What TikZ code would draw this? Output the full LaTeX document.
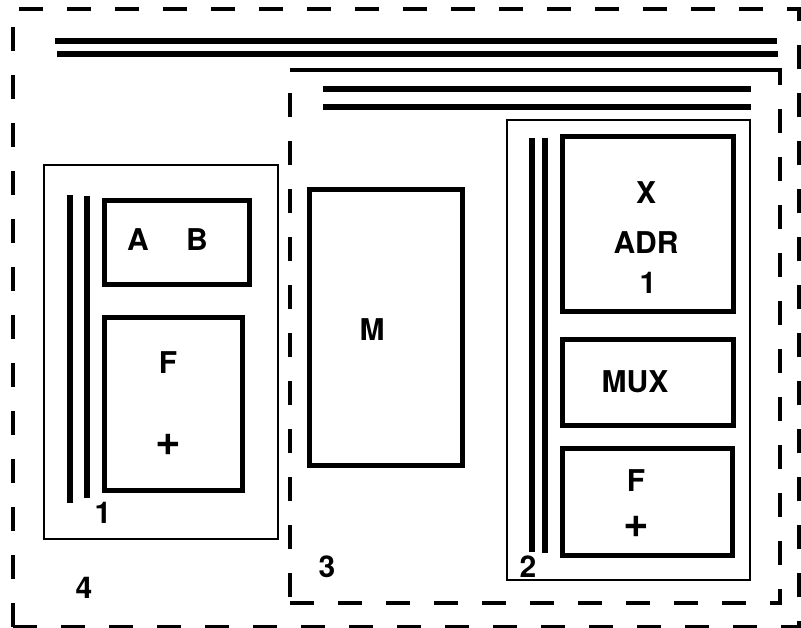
\documentclass[tikz,border=0pt]{standalone}
\usepackage{fontspec}
\setmainfont{TeX Gyre Heros}
\usepackage{tikz}

\begin{document}
\begin{tikzpicture}[
  x=1pt, y=-1pt,
  blk/.style={rectangle, draw, line width=5pt, inner sep=0pt, outer sep=0pt},
  frm/.style={rectangle, draw, line width=2.6pt, inner sep=0pt, outer sep=0pt},
  grp/.style={rectangle, draw, line width=4pt, dash pattern=on 24pt off 24pt,
              inner sep=0pt, outer sep=0pt},
  bus/.style={line width=5.5pt},
  lbl/.style={font=\fontsize{30}{36}\selectfont\bfseries, inner sep=0pt},
  plus/.style={lbl, font=\fontsize{44}{48}\selectfont\bfseries}
]
\useasboundingbox (0,0) rectangle (801,628);

% Outer group 4 and its bus
\node[grp, minimum width=786pt, minimum height=618pt] (g4) at (406,318) {};
\draw[bus] (55,41) -- (777,41);
\draw[bus] (57,54) -- (778,54);
\node[lbl] (n4) at (84,588) {4};

% Group 3, solid on top
\node[grp, minimum width=490pt, minimum height=533pt] (g3) at (535,336.5) {};
\draw[line width=4pt] (g3.north west) -- (g3.north east);
\draw[bus] (323,89) -- (751,89);
\draw[bus] (323,107) -- (751,107);
\node[lbl] (n3) at (327,567) {3};

% Module 1
\node[frm, minimum width=234pt, minimum height=374pt] (m1) at (161,352) {};
\draw[bus] (70,195) -- (70,503);
\draw[bus] (87,196) -- (87,498);
\node[blk, minimum width=145pt, minimum height=84pt] (ab) at (176.5,243) {};
\node[lbl] (tA) at (138,240) {A};
\node[lbl] (tB) at (197,240) {B};
\node[blk, minimum width=138pt, minimum height=173pt] (fl) at (173,404) {};
\node[lbl] (tFl) at (168,363) {F};
\node[plus] (tPl) at (168,445) {+};
\node[lbl] (n1) at (103,513) {1};

% Memory
\node[blk, minimum width=153pt, minimum height=275pt] (mem) at (385.5,327.5) {};
\node[lbl] (tM) at (372,330) {M};

% Module 2
\node[frm, minimum width=243pt, minimum height=460pt] (m2) at (628.5,350) {};
\draw[bus] (532,138) -- (532,552);
\draw[bus] (545,138) -- (545,553);
\node[blk, minimum width=171pt, minimum height=175pt] (adr) at (647.5,224.5) {};
\node[lbl] (tX) at (646,193) {X};
\node[lbl] (tADR) at (646,243) {ADR};
\node[lbl] (tOne) at (648,283) {1};
\node[blk, minimum width=171pt, minimum height=85pt] (mux) at (647.5,382.5) {};
\node[lbl] (tMUX) at (635,382) {MUX};
\node[blk, minimum width=170pt, minimum height=107pt] (fr) at (647,501.5) {};
\node[lbl] (tFr) at (636,481) {F};
\node[plus] (tPr) at (636,527) {+};
\node[lbl] (n2) at (528,567) {2};

\end{tikzpicture}
\end{document}
